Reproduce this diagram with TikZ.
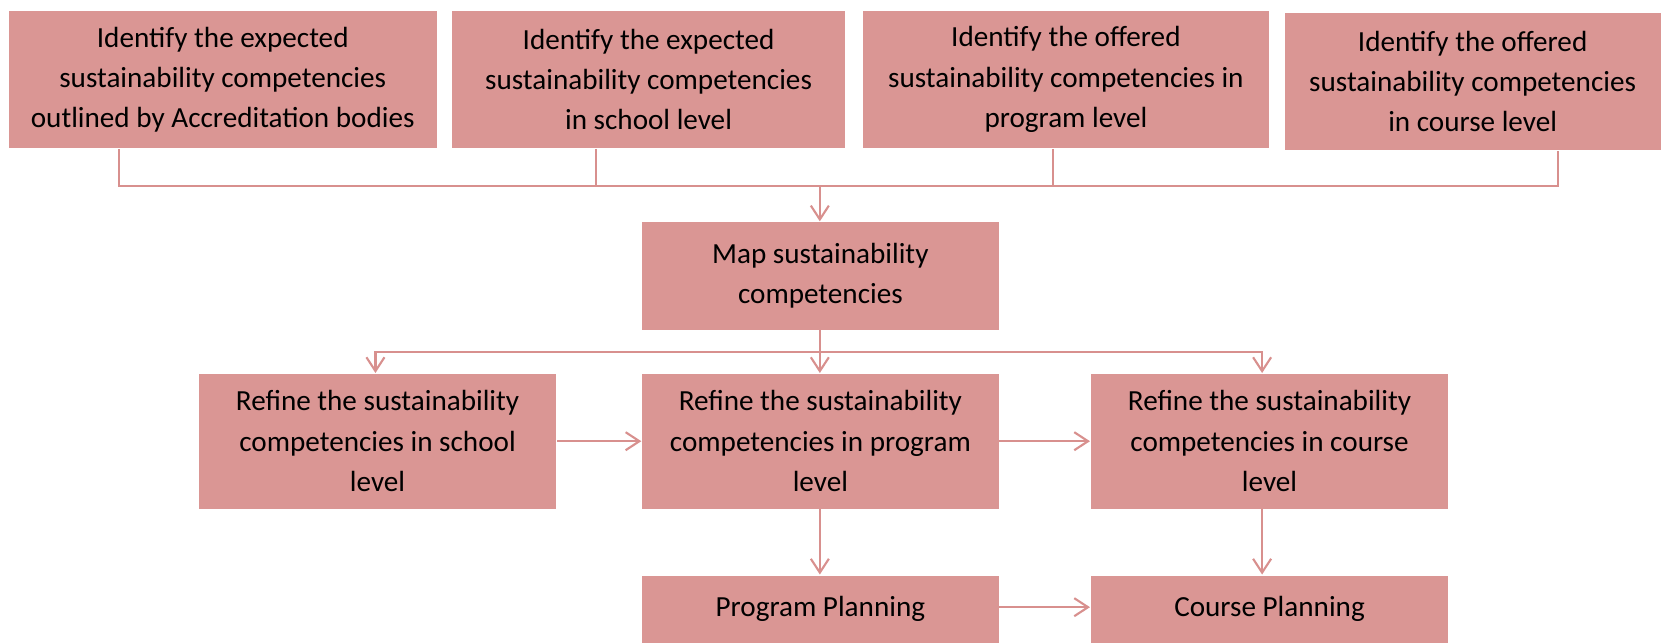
\documentclass[tikz,border=0pt]{standalone}
\usepackage{fontspec}
\setmainfont{Carlito}
\usepackage{tikz}
\usetikzlibrary{arrows.meta, positioning, calc}
\definecolor{boxfill}{HTML}{DA9694}
\definecolor{linkline}{HTML}{D8908E}

\begin{document}
\begin{tikzpicture}[x=1pt, y=-1pt, >={Straight Barb[length=13pt, width=17pt]}]
  \tikzset{
    stage/.style={fill=boxfill, draw=white, line width=0.6pt, align=center, inner sep=0pt,
      font=\fontsize{27.5}{38}\selectfont, text=black},
    link/.style={draw=linkline, line width=2pt}
  }
  \useasboundingbox (0,0) rectangle (1568,607);

  % 1. Identifikace kompetenci
  \node[stage, minimum width=404, minimum height=130] (acc) at (210,75)
    {Identify the expected\\sustainability competencies\\outlined by Accreditation bodies};
  \node[stage, minimum width=371, minimum height=130] (school) at (611.5,75)
    {Identify the expected\\sustainability competencies\\in school level};
  \node[stage, minimum width=384, minimum height=130] (program) at (1005,75)
    {Identify the offered\\sustainability competencies in\\program level};
  \node[stage, minimum width=355, minimum height=130] (course) at (1388.5,77)
    {Identify the offered\\sustainability competencies\\in course level};
  \coordinate (bus) at (773,175);

  % 2. Mapovani
  \node[stage, minimum width=337, minimum height=102] (map) at (773.5,260)
    {Map sustainability\\competencies};
  \coordinate (split) at (773,332);

  % 3. Zpresneni
  \node[stage, minimum width=338, minimum height=128] (refschool) at (356,416)
    {Refine the sustainability\\competencies in school\\level};
  \node[stage, minimum width=337, minimum height=128] (refprogram) at (773.5,416)
    {Refine the sustainability\\competencies in program\\level};
  \node[stage, minimum width=338, minimum height=128] (refcourse) at (1197,416)
    {Refine the sustainability\\competencies in course\\level};

  % 4. Planovani
  \node[stage, minimum width=337, minimum height=65] (progplan) at (773.5,574.5) {Program Planning};
  \node[stage, minimum width=338, minimum height=65] (courseplan) at (1197,574.5) {Course Planning};

  % Spojnice
  \draw[link] ([xshift=-98pt]acc.south) |- ([xshift=80.5pt]course.south |- bus) -- ([xshift=80.5pt]course.south);
  \draw[link] ([xshift=-49.5pt]school.south) -- ([xshift=-49.5pt]school.south |- bus);
  \draw[link] ([xshift=-12pt]program.south) -- ([xshift=-12pt]program.south |- bus);
  \draw[link, ->] (bus) -- (bus |- map.north);
  \draw[link, ->] (bus |- map.south) -- (bus |- refprogram.north);
  \draw[link, ->] (split) -| ([xshift=-2pt]refschool.north);
  \draw[link, ->] (split) -| ([xshift=-7pt]refcourse.north);
  \draw[link, ->] (refschool.east) -- (refprogram.west);
  \draw[link, ->] (refprogram.east) -- (refcourse.west);
  \draw[link, ->] (bus |- refprogram.south) -- (bus |- progplan.north);
  \draw[link, ->] ([xshift=-7pt]refcourse.south) -- ([xshift=-7pt]courseplan.north);
  \draw[link, ->] ([yshift=2pt]progplan.east) -- ([yshift=2pt]courseplan.west);
\end{tikzpicture}
\end{document}
